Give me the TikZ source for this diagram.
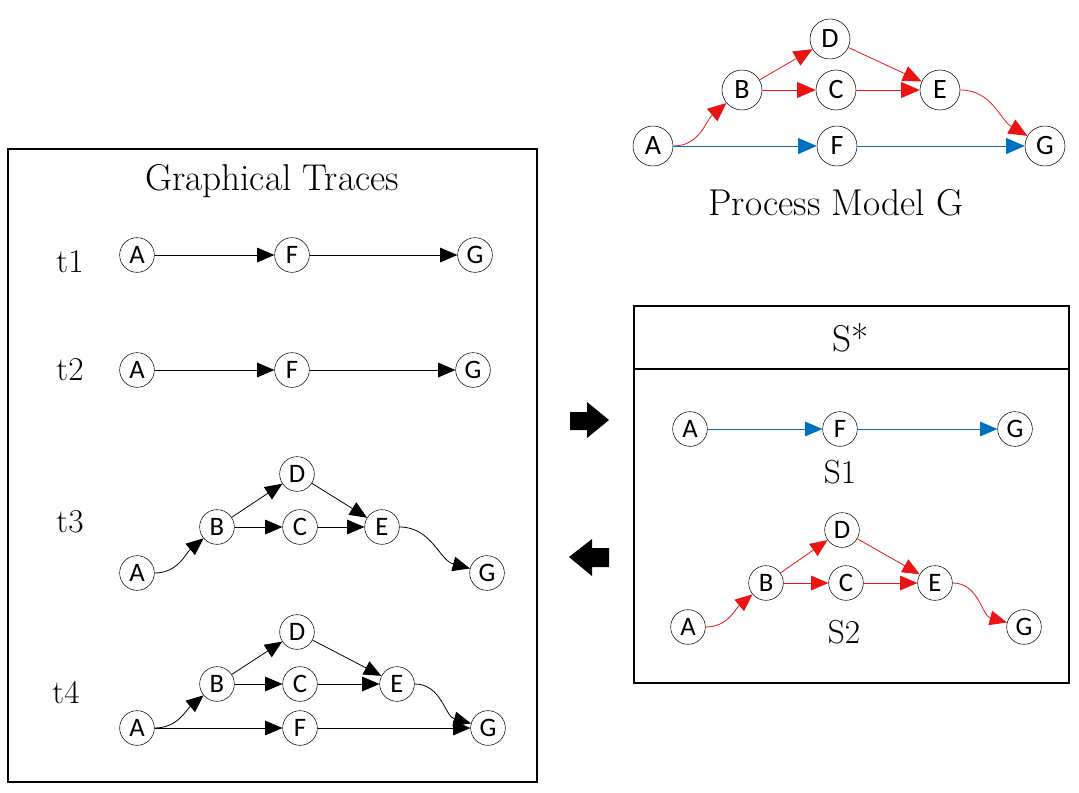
\documentclass[tikz,border=0pt]{standalone}
\usepackage{fontspec}
\newfontfamily\nodefont{Carlito}
\definecolor{pathRed}{RGB}{235, 20, 20}
\definecolor{pathBlue}{RGB}{0, 112, 192}
\usetikzlibrary{arrows.meta}

\tikzset{
    bigstate/.style={circle, draw, thin, fill=white, minimum size=30pt, inner sep=0pt, font=\nodefont\fontsize{21}{21}\selectfont},
    smallstate/.style={circle, draw, thin, fill=white, minimum size=26pt, inner sep=0pt, font=\nodefont\fontsize{20}{20}\selectfont},
    flow/.style={-{Triangle[length=13pt, width=11pt]}, line width=0.6pt},
    bigflow/.style={-{Triangle[length=14pt, width=12pt]}, line width=0.6pt},
    label/.style={font=\fontsize{28}{28}\selectfont},
    tlabel/.style={font=\fontsize{25}{25}\selectfont}
}

\begin{document}
\begin{tikzpicture}[x=0.75pt, y=-0.75pt]
    \useasboundingbox (0,0) rectangle (1079,793);

    % process model
    \node[bigstate] (gA) at (653,146) {A};
    \node[bigstate] (gB) at (742,90) {B};
    \node[bigstate] (gC) at (836,90) {C};
    \node[bigstate] (gD) at (830,39) {D};
    \node[bigstate] (gE) at (940,90) {E};
    \node[bigstate] (gF) at (837,146) {F};
    \node[bigstate] (gG) at (1045,146) {G};
    \node[label] (gname) at (836,203) {Process Model G};

    \draw[bigflow, pathRed] (gA.east) to[out=0, in=220] (gB);
    \draw[bigflow, pathRed] (gB) -- (gD);
    \draw[bigflow, pathRed] (gB) -- (gC);
    \draw[bigflow, pathRed] (gD) -- (gE);
    \draw[bigflow, pathRed] (gC) -- (gE);
    \draw[bigflow, pathRed] (gE.east) to[out=0, in=150] (gG);
    \draw[bigflow, pathBlue] (gA) -- (gF);
    \draw[bigflow, pathBlue] (gF) -- (gG);

    % graphical traces
    \draw[line width=1.1pt] (8,149) rectangle (537,782);
    \node[label] (traces) at (272,181) {Graphical Traces};

    \node[tlabel] (t1) at (70,262) {t1};
    \node[smallstate] (aA) at (137,255) {A};
    \node[smallstate] (aF) at (292,255) {F};
    \node[smallstate] (aG) at (475,255) {G};
    \draw[flow] (aA) -- (aF);
    \draw[flow] (aF) -- (aG);

    \node[tlabel] (t2) at (70,370) {t2};
    \node[smallstate] (bA) at (137,370) {A};
    \node[smallstate] (bF) at (292,370) {F};
    \node[smallstate] (bG) at (473,370) {G};
    \draw[flow] (bA) -- (bF);
    \draw[flow] (bF) -- (bG);

    \node[tlabel] (t3) at (70,522) {t3};
    \node[smallstate] (cA) at (137,573) {A};
    \node[smallstate] (cB) at (217,527) {B};
    \node[smallstate] (cC) at (300,527) {C};
    \node[smallstate] (cD) at (297,474) {D};
    \node[smallstate] (cE) at (382,527) {E};
    \node[smallstate] (cG) at (487,573) {G};
    \draw[flow] (cA.east) to[out=0, in=220] (cB);
    \draw[flow] (cB) -- (cD);
    \draw[flow] (cB) -- (cC);
    \draw[flow] (cD) -- (cE);
    \draw[flow] (cC) -- (cE);
    \draw[flow] (cE.east) to[out=0, in=165] (cG);

    \node[tlabel] (t4) at (66,692) {t4};
    \node[smallstate] (dA) at (137,728) {A};
    \node[smallstate] (dB) at (217,684) {B};
    \node[smallstate] (dC) at (300,684) {C};
    \node[smallstate] (dD) at (297,632) {D};
    \node[smallstate] (dE) at (397,684) {E};
    \node[smallstate] (dF) at (300,728) {F};
    \node[smallstate] (dG) at (488,728) {G};
    \draw[flow] (dA.east) to[out=0, in=220] (dB);
    \draw[flow] (dB) -- (dD);
    \draw[flow] (dB) -- (dC);
    \draw[flow] (dD) -- (dE);
    \draw[flow] (dC) -- (dE);
    \draw[flow] (dE.east) to[out=0, in=165] (dG);
    \draw[flow] (dA) -- (dF);
    \draw[flow] (dF) -- (dG);

    % block arrows
    \fill (570,412) -- (587,412) -- (587,402) -- (609,420) -- (587,438) -- (587,430) -- (570,430) -- cycle;
    \fill (609,548) -- (592,548) -- (592,539) -- (569,557) -- (592,576) -- (592,567) -- (609,567) -- cycle;

    % S*
    \draw[line width=1.1pt] (634,306) rectangle (1069,683);
    \draw[line width=1.1pt] (634,369) -- (1069,369);
    \node[label] (sstar) at (851,338) {S*};

    \node[smallstate] (sA) at (690,429) {A};
    \node[smallstate] (sF) at (840,429) {F};
    \node[smallstate] (sG) at (1015,429) {G};
    \node[tlabel] (s1) at (840,472) {S1};
    \draw[flow, pathBlue] (sA) -- (sF);
    \draw[flow, pathBlue] (sF) -- (sG);

    \node[smallstate] (rA) at (688,627) {A};
    \node[smallstate] (rB) at (766,583) {B};
    \node[smallstate] (rC) at (846,583) {C};
    \node[smallstate] (rD) at (842,530) {D};
    \node[smallstate] (rE) at (935,583) {E};
    \node[smallstate] (rG) at (1024,627) {G};
    \node[tlabel] (s2) at (844,632) {S2};
    \draw[flow, pathRed] (rA.east) to[out=0, in=220] (rB);
    \draw[flow, pathRed] (rB) -- (rD);
    \draw[flow, pathRed] (rB) -- (rC);
    \draw[flow, pathRed] (rD) -- (rE);
    \draw[flow, pathRed] (rC) -- (rE);
    \draw[flow, pathRed] (rE.east) to[out=0, in=165] (rG);
\end{tikzpicture}
\end{document}
